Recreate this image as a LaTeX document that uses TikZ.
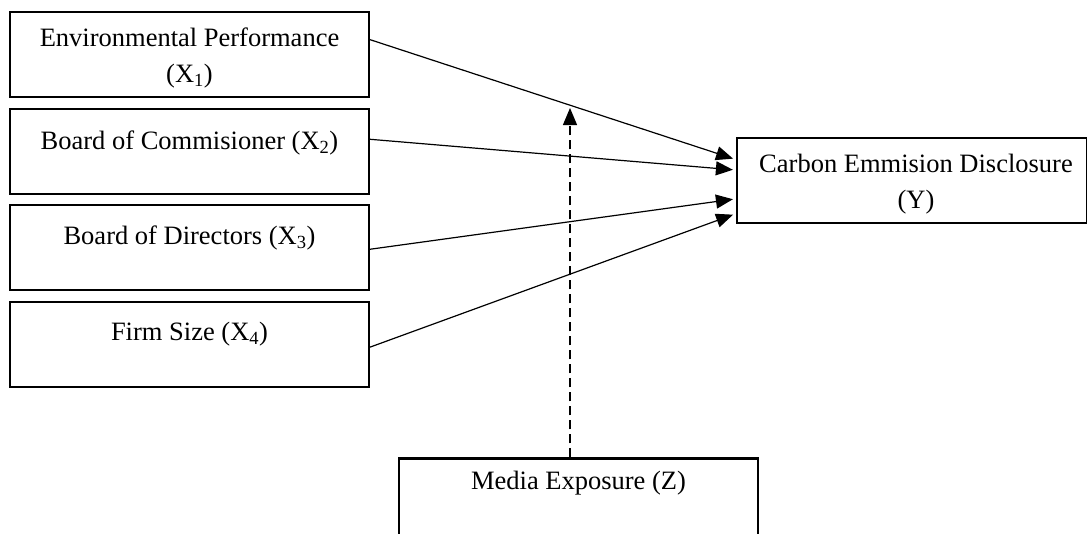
\documentclass[tikz,border=0pt]{standalone}
\usepackage{fontspec}
\setmainfont{Liberation Serif}
\usetikzlibrary{arrows.meta,calc}
\begin{document}
\begin{tikzpicture}[x=1pt,y=-1pt,
  box/.style={draw, line width=2.2pt, minimum width=359pt, minimum height=85pt, inner sep=0pt},
  lbl/.style={font=\fontsize{26.5}{36}\selectfont, align=center, inner sep=0pt},
  conn/.style={line width=1.2pt, -{Triangle[length=17pt,width=14pt]}, shorten >=3pt},
  dconn/.style={line width=1.2pt, dash pattern=on 9pt off 5pt, -{Triangle[length=17pt,width=14pt]}}]
\clip (0,0) rectangle (1087,533);
\fill[white] (0,0) rectangle (1087,533);
% boxes
\node[box] (x1) at (189.5,54.5) {};
\node[box] (x2) at (189.5,151.5) {};
\node[box] (x3) at (189.5,247.5) {};
\node[box] (x4) at (189.5,344.5) {};
\node[box, minimum width=350pt] (y) at (912,180.5) {};
\node[box] (z) at (578.5,501) {};
% labels
\node[lbl] (tx1) at (189.5,58) {Environmental Performance\\(X\textsubscript{1})};
\node[lbl] (tx2) at (189.5,143) {Board of Commisioner (X\textsubscript{2})};
\node[lbl] (tx3) at (189.5,238) {Board of Directors (X\textsubscript{3})};
\node[lbl] (tx4) at (189.5,334) {Firm Size (X\textsubscript{4})};
\node[lbl] (ty) at (916,184) {Carbon Emmision Disclosure\\(Y)};
\node[lbl] (tz) at (578.5,483) {Media Exposure (Z)};
% connectors
\draw[conn] ($(x1.north east)!0.33!(x1.south east)$) -- ($(y.north west)!0.26!(y.south west)$);
\draw[conn] ($(x2.north east)!0.36!(x2.south east)$) -- ($(y.north west)!0.38!(y.south west)$);
\draw[conn] ($(x3.north east)!0.52!(x3.south east)$) -- ($(y.north west)!0.71!(y.south west)$);
\draw[conn] ($(x4.north east)!0.53!(x4.south east)$) -- ($(y.north west)!0.88!(y.south west)$);
\coordinate (m) at (570,108);
\draw[dconn] (z.north -| m) -- (m);
\end{tikzpicture}
\end{document}
